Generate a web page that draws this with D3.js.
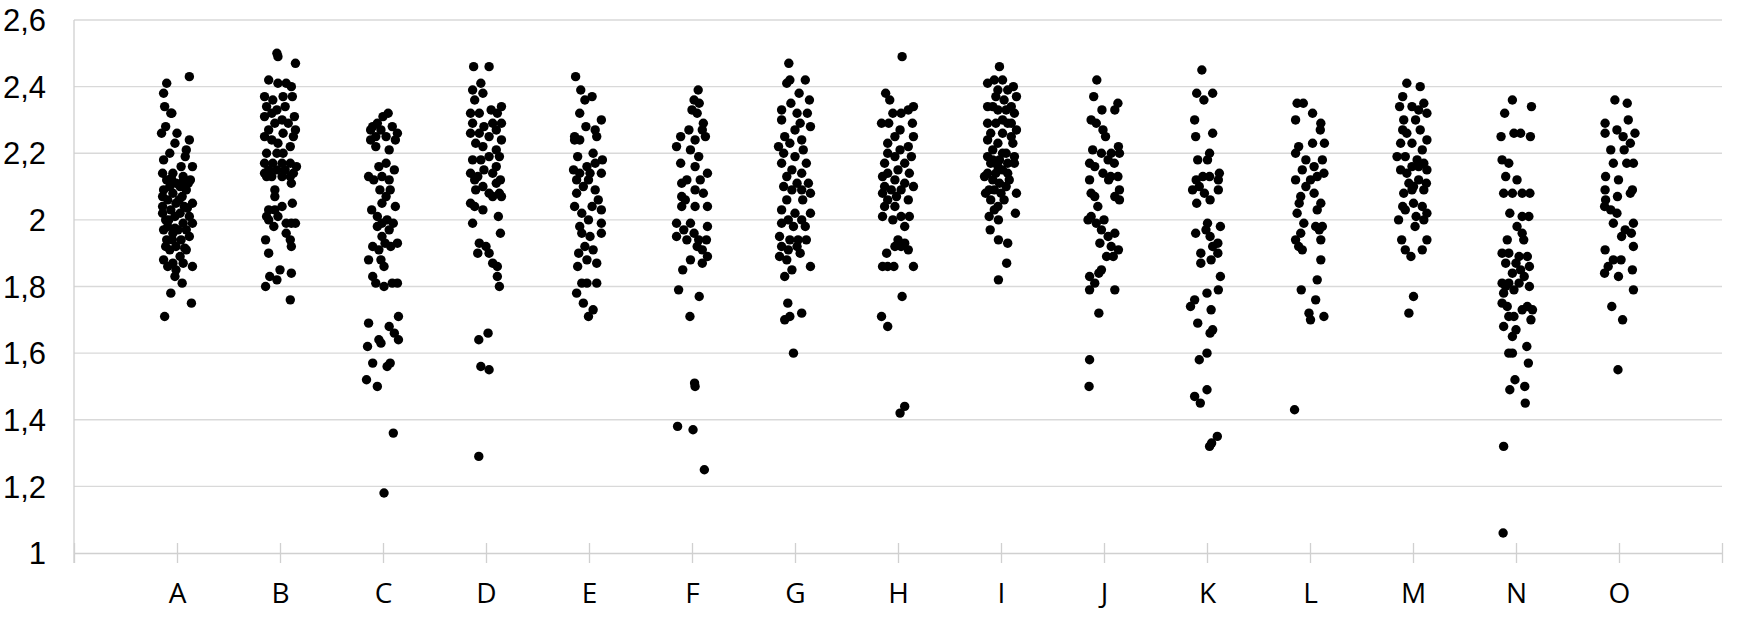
<!DOCTYPE html>
<html>
<head>
<meta charset="utf-8">
<script src="https://cdn.jsdelivr.net/npm/d3@7"></script>
<style>
  html, body { margin: 0; padding: 0; background: #fff; }
  svg text { fill: #000; }
</style>
</head>
<body>
<svg id="chart"></svg>
<script>
// categories sit on x = 1..15, axis runs 0..16
const categories = ['A','B','C','D','E','F','G','H','I','J','K','L','M','N','O']
const yTicks = [1, 1.2, 1.4, 1.6, 1.8, 2, 2.2, 2.4, 2.6]

// each point: [jitter offset from category x, value]
const pointsA = [[.12,2.43],[-.10,2.41],[-.13,2.38],[-.12,2.34],[-.05,2.32],[-.06,2.32],[-.11,2.28],[-.15,2.26],[0,2.26],[.12,2.24],
  [-.02,2.23],[.09,2.21],[-.07,2.20],[.08,2.19],[-.13,2.18],[.15,2.16],[.04,2.16],[-.14,2.14],[-.04,2.14],[.06,2.13],
  [.13,2.12],[-.10,2.12],[-.01,2.11],[-.07,2.10],[.03,2.10],[-.13,2.09],[.09,2.09],[-.04,2.08],[-.14,2.07],[.05,2.07],
  [-.09,2.06],[.15,2.05],[-.01,2.05],[-.14,2.04],[.07,2.04],[-.06,2.03],[.03,2.02],[-.14,2.02],[-.11,2.00],[-.02,2.01],
  [.12,2.01],[.06,1.99],[.15,1.99],[-.09,1.98],[.01,1.97],[-.13,1.97],[.09,1.97],[-.04,1.96],[.12,1.95],[.04,1.94],
  [-.11,1.92],[-.01,1.92],[.09,1.91],[-.07,1.91],[-.13,1.88],[.03,1.89],[-.04,1.87],[.15,1.86],[-.09,1.86],[.06,1.87],
  [-.01,1.85],[-.02,1.83],[.05,1.81],[-.06,1.78],[.14,1.75],[-.12,1.71],[-.055,2.125],[.02,2.06],[-.08,2.00],[.10,2.035],
  [-.045,1.94],[.075,1.915],[-.10,1.94],[.04,2.11],[.11,2.11],[-.02,1.975]]
const pointsB = [[-.03,2.50],[-.02,2.49],[.15,2.47],[-.11,2.42],[-.02,2.41],[.06,2.41],[.11,2.40],[-.15,2.37],[-.07,2.36],[.03,2.37],
  [.12,2.37],[-.13,2.34],[-.03,2.33],[.05,2.34],[-.08,2.32],[.14,2.31],[-.15,2.31],[.02,2.30],[.08,2.29],[.15,2.27],
  [-.05,2.29],[-.11,2.27],[.03,2.26],[.13,2.25],[-.08,2.24],[-.15,2.25],[-.02,2.23],[.10,2.22],[-.13,2.20],[.03,2.20],
  [-.03,2.20],[-.15,2.17],[-.07,2.17],[.02,2.17],[.10,2.17],[.16,2.16],[-.11,2.15],[-.03,2.15],[-.15,2.14],[.05,2.15],
  [.13,2.14],[-.08,2.13],[.02,2.13],[.10,2.13],[-.13,2.13],[.11,2.11],[-.05,2.09],[-.05,2.07],[.12,2.05],[-.11,2.03],
  [-.05,2.03],[.02,2.04],[-.13,2.01],[-.02,2.01],[.06,1.99],[.15,1.99],[.11,1.99],[-.06,1.98],[-.11,2.00],[.06,1.96],
  [.10,1.94],[-.14,1.94],[.11,1.92],[-.11,1.90],[0,1.85],[-.10,1.83],[.11,1.84],[-.14,1.80],[-.03,1.82],[.10,1.76]]
const pointsC = [[.05,2.32],[0,2.31],[-.055,2.29],[-.10,2.28],[-.12,2.27],[.09,2.28],[.14,2.26],[-.02,2.27],[-.07,2.25],[.03,2.25],
  [.12,2.24],[-.12,2.24],[.06,2.21],[-.07,2.22],[.03,2.17],[.11,2.15],[-.04,2.16],[-.14,2.13],[-.01,2.13],[-.09,2.12],
  [.06,2.12],[-.03,2.09],[.07,2.09],[.03,2.07],[-.11,2.03],[-.01,2.05],[.12,2.04],[-.055,2.01],[.04,2.00],[-.01,1.99],
  [.10,1.99],[-.055,1.98],[.06,1.97],[-.01,1.95],[.14,1.93],[.02,1.93],[-.10,1.92],[-.04,1.91],[.075,1.92],[-.14,1.88],
  [-.02,1.88],[.01,1.86],[-.10,1.83],[-.07,1.81],[.01,1.80],[.09,1.81],[.14,1.81],[-.14,1.69],[.15,1.71],[.06,1.68],
  [.11,1.66],[-.04,1.64],[.15,1.64],[-.02,1.63],[-.15,1.62],[-.10,1.57],[.04,1.56],[.07,1.57],[-.16,1.52],[-.055,1.50],
  [.10,1.36],[.01,1.18]]
const pointsD = [[-.12,2.46],[.03,2.46],[-.05,2.41],[-.13,2.39],[-.03,2.38],[.15,2.34],[-.11,2.36],[.05,2.33],[-.15,2.32],[.11,2.32],
  [-.065,2.32],[-.13,2.29],[.065,2.29],[.15,2.29],[-.02,2.28],[-.15,2.26],[-.065,2.26],[.10,2.27],[.03,2.25],[.15,2.24],
  [-.10,2.23],[-.03,2.22],[.10,2.21],[-.13,2.18],[.03,2.19],[.13,2.19],[-.05,2.18],[.10,2.16],[-.02,2.15],[-.15,2.14],
  [-.08,2.13],[.065,2.14],[.14,2.12],[-.11,2.12],[-.03,2.10],[.10,2.11],[.03,2.08],[.13,2.08],[-.10,2.09],[.065,2.07],
  [.15,2.07],[-.15,2.05],[-.11,2.04],[-.03,2.03],[-.13,1.99],[.12,2.01],[.14,1.96],[-.065,1.93],[0,1.92],[.03,1.90],
  [.065,1.87],[.11,1.86],[-.08,1.90],[.11,1.83],[.13,1.80],[.02,1.66],[-.07,1.64],[-.05,1.56],[.03,1.55],[-.07,1.29]]
const pointsE = [[-.13,2.43],[-.08,2.39],[-.04,2.36],[.03,2.37],[-.09,2.32],[.12,2.30],[-.03,2.28],[.06,2.27],[-.14,2.25],[-.09,2.24],
  [.075,2.25],[.04,2.20],[.13,2.18],[-.11,2.19],[-.15,2.15],[-.02,2.16],[.06,2.17],[.12,2.14],[-.09,2.14],[-.12,2.12],
  [-.005,2.12],[.06,2.09],[-.055,2.10],[-.12,2.08],[-.14,2.04],[.03,2.04],[.12,2.03],[-.07,2.02],[-.005,2.00],[-.09,1.98],
  [.12,1.99],[.12,1.96],[.01,1.95],[-.04,1.92],[.04,1.91],[-.10,1.90],[.075,1.87],[-.02,1.88],[-.11,1.86],[-.07,1.81],
  [.075,1.81],[-.12,1.78],[-.02,1.81],[-.055,1.75],[.04,1.73],[-.005,1.71],[-.14,2.24],[.01,2.14],[.09,2.06],[-.07,1.96]]
const pointsF = [[.06,2.39],[.02,2.36],[.07,2.35],[0,2.33],[.05,2.32],[.11,2.29],[.10,2.27],[-.03,2.27],[-.11,2.25],[-.15,2.22],
  [.13,2.25],[.03,2.24],[-.015,2.21],[.065,2.19],[-.11,2.17],[.15,2.14],[.03,2.16],[-.05,2.12],[-.10,2.11],[.08,2.12],
  [.03,2.09],[.11,2.08],[-.10,2.07],[-.065,2.06],[.15,2.04],[.03,2.04],[-.10,2.04],[-.15,1.99],[-.015,1.99],[.15,1.98],
  [-.08,1.97],[.02,1.96],[-.15,1.95],[.065,1.94],[.14,1.94],[-.05,1.94],[.05,1.92],[.10,1.91],[.15,1.89],[-.015,1.88],
  [.10,1.87],[-.09,1.85],[-.13,1.79],[.07,1.77],[-.02,1.71],[.03,1.50],[.025,1.51],[-.14,1.38],[.01,1.37],[.12,1.25]]
const pointsG = [[-.06,2.47],[-.08,2.41],[-.05,2.42],[.10,2.42],[.04,2.38],[.14,2.36],[-.04,2.35],[-.13,2.33],[.02,2.32],[.12,2.32],
  [-.13,2.30],[.15,2.28],[.05,2.29],[0,2.27],[-.10,2.25],[-.16,2.22],[.065,2.24],[-.05,2.23],[.08,2.21],[-.11,2.20],
  [0,2.19],[-.13,2.17],[.11,2.17],[-.03,2.15],[.065,2.14],[-.08,2.13],[.13,2.11],[.02,2.11],[-.11,2.10],[-.03,2.09],
  [.15,2.08],[.065,2.09],[-.08,2.06],[.075,2.06],[-.13,2.03],[0,2.02],[.15,2.02],[-.065,2.00],[.065,2.00],[-.13,1.99],
  [-.015,1.98],[.10,1.98],[-.15,1.95],[-.05,1.94],[.03,1.94],[.11,1.94],[.02,1.92],[-.13,1.92],[-.065,1.91],[.05,1.90],
  [-.15,1.89],[-.08,1.88],[.15,1.86],[-.03,1.85],[-.10,1.83],[-.07,1.75],[-.10,1.70],[-.05,1.71],[.065,1.72],[-.015,1.60]]
const pointsH = [[.04,2.49],[-.12,2.38],[-.08,2.36],[.15,2.34],[.10,2.33],[-.05,2.32],[.03,2.32],[-.16,2.29],[-.09,2.29],[.14,2.29],
  [.02,2.27],[-.03,2.25],[.15,2.25],[-.10,2.23],[.10,2.22],[.02,2.21],[-.10,2.20],[.13,2.19],[-.03,2.19],[-.13,2.17],
  [.065,2.17],[0,2.15],[-.10,2.14],[.11,2.14],[-.15,2.13],[-.03,2.12],[.065,2.11],[.15,2.10],[-.13,2.10],[-.065,2.09],
  [.03,2.09],[-.15,2.08],[-.015,2.07],[-.10,2.06],[.10,2.06],[-.13,2.04],[-.03,2.04],[-.15,2.01],[-.05,2.00],[.03,2.01],
  [.11,2.01],[.065,1.98],[0,1.94],[.065,1.93],[-.03,1.92],[.03,1.92],[.10,1.91],[-.11,1.90],[-.15,1.86],[-.10,1.86],
  [-.04,1.86],[.15,1.86],[.04,1.77],[-.16,1.71],[-.10,1.68],[.065,1.44],[.02,1.42]]
const pointsI = [[-.015,2.46],[-.13,2.41],[-.065,2.42],[.015,2.42],[.12,2.40],[-.03,2.39],[.065,2.39],[.15,2.37],[-.05,2.37],[.03,2.36],
  [-.13,2.34],[-.03,2.33],[.05,2.33],[.13,2.32],[-.13,2.29],[-.05,2.29],[.065,2.29],[.15,2.27],[-.10,2.26],[.015,2.26],
  [.10,2.25],[-.13,2.24],[-.03,2.23],[.115,2.23],[-.08,2.21],[.05,2.20],[.13,2.19],[-.13,2.19],[-.015,2.18],[.065,2.17],
  [-.10,2.17],[.13,2.17],[.015,2.15],[-.13,2.14],[-.05,2.14],[.065,2.14],[-.16,2.13],[-.08,2.12],[.08,2.12],[-.015,2.11],
  [-.115,2.09],[.05,2.10],[-.065,2.09],[0,2.08],[-.15,2.08],[.15,2.08],[-.10,2.06],[.03,2.06],[-.03,2.04],[-.065,2.03],
  [.14,2.02],[-.115,2.01],[-.025,2.00],[-.105,1.97],[-.025,1.94],[.065,1.93],[.055,1.87],[-.025,1.82],[-.08,2.34],[.10,2.34],
  [.015,2.30],[-.08,2.18],[.10,2.29],[.015,2.20],[-.03,2.16]]
const pointsJ = [[-.07,2.42],[-.10,2.37],[.135,2.35],[-.02,2.33],[.105,2.33],[-.125,2.30],[-.075,2.29],[-.01,2.27],[.015,2.25],[.14,2.22],
  [-.11,2.21],[-.025,2.20],[.07,2.20],[.15,2.20],[-.14,2.17],[.04,2.18],[.10,2.17],[-.09,2.16],[-.01,2.14],[.135,2.13],
  [.065,2.13],[-.14,2.12],[.045,2.12],[.15,2.09],[-.125,2.08],[.105,2.07],[.15,2.06],[-.09,2.07],[-.06,2.04],[-.155,2.00],
  [-.125,2.01],[0,2.00],[-.075,1.99],[-.025,1.97],[.105,1.96],[.04,1.95],[-.04,1.93],[.07,1.92],[.14,1.91],[.09,1.89],
  [.025,1.89],[-.025,1.85],[-.05,1.84],[-.14,1.83],[-.09,1.81],[-.14,1.79],[.105,1.79],[-.05,1.72],[-.14,1.58],[-.145,1.50]]
const pointsK = [[-.05,2.45],[-.10,2.38],[.055,2.38],[-.03,2.36],[-.12,2.30],[.055,2.26],[-.11,2.25],[.025,2.20],[.005,2.18],[-.09,2.18],
  [.12,2.14],[-.04,2.13],[.025,2.13],[-.105,2.12],[.11,2.12],[-.14,2.09],[-.075,2.10],[-.025,2.08],[.11,2.09],[.03,2.06],
  [-.10,2.05],[.005,1.99],[.13,1.98],[-.11,1.96],[.03,1.95],[-.01,1.97],[.105,1.93],[.055,1.92],[-.06,1.90],[.105,1.90],
  [.04,1.88],[-.06,1.87],[.13,1.83],[.11,1.79],[0,1.78],[-.12,1.76],[-.16,1.74],[.04,1.73],[-.09,1.69],[.055,1.67],
  [.03,1.66],[0,1.60],[-.075,1.58],[0,1.49],[-.12,1.47],[-.065,1.45],[.10,1.35],[.025,1.32],[.045,1.33]]
const pointsL = [[-.125,2.35],[-.065,2.35],[.025,2.32],[.105,2.29],[-.14,2.30],[.10,2.27],[.14,2.23],[-.11,2.22],[.025,2.23],[-.14,2.20],
  [-.04,2.18],[.12,2.18],[.04,2.16],[-.075,2.15],[.135,2.14],[-.14,2.12],[.005,2.12],[.07,2.13],[-.04,2.10],[.04,2.08],
  [-.09,2.07],[.105,2.05],[-.105,2.05],[.07,2.03],[-.125,2.02],[-.06,1.99],[.055,1.98],[.12,1.98],[.09,1.97],[-.09,1.96],
  [-.14,1.94],[.105,1.94],[-.075,1.91],[-.11,1.92],[.105,1.88],[.07,1.82],[-.085,1.79],[.055,1.76],[-.01,1.72],[.005,1.70],
  [.135,1.71],[-.15,1.43]]
const pointsM = [[-.06,2.41],[.07,2.40],[-.10,2.37],[.105,2.35],[-.13,2.34],[-.01,2.34],[.055,2.33],[.135,2.32],[-.09,2.30],[.025,2.30],
  [-.10,2.27],[.07,2.27],[.135,2.24],[-.12,2.23],[-.01,2.23],[.09,2.21],[-.155,2.19],[-.075,2.19],[.04,2.18],[.105,2.17],
  [-.12,2.15],[-.01,2.16],[.135,2.15],[-.06,2.14],[.055,2.12],[.13,2.11],[.005,2.10],[-.09,2.08],[.105,2.09],[-.01,2.09],
  [.005,2.05],[.09,2.04],[-.10,2.04],[.135,2.02],[-.075,2.03],[.03,2.01],[-.14,2.00],[.105,2.00],[.02,1.98],[-.11,1.94],
  [.135,1.94],[-.075,1.91],[.09,1.91],[-.02,1.89],[.005,1.77],[-.04,1.72],[-.06,2.26],[.055,2.16],[-.04,2.11]]
const pointsN = [[-.035,2.36],[.15,2.34],[-.11,2.32],[-.145,2.25],[-.02,2.26],[.045,2.26],[.14,2.25],[-.135,2.18],[-.07,2.17],[-.10,2.13],
  [.01,2.12],[-.12,2.08],[-.035,2.08],[.06,2.08],[.135,2.08],[-.06,2.02],[.06,2.01],[.125,2.01],[.01,1.98],[.06,1.96],
  [.075,1.94],[-.085,1.94],[-.135,1.90],[-.07,1.90],[.03,1.89],[.11,1.89],[-.10,1.87],[0,1.87],[.13,1.86],[-.035,1.84],
  [.08,1.83],[-.135,1.81],[-.07,1.81],[.03,1.81],[.13,1.80],[-.10,1.80],[-.02,1.79],[-.12,1.78],[-.135,1.75],[-.085,1.74],
  [.11,1.74],[.06,1.73],[.16,1.73],[-.02,1.71],[.145,1.70],[-.07,1.71],[-.12,1.68],[0,1.67],[-.035,1.65],[.105,1.62],
  [-.07,1.60],[-.035,1.60],[.12,1.57],[-.01,1.52],[-.06,1.49],[.085,1.50],[.09,1.45],[-.12,1.32],[-.125,1.06],[.045,1.85]]
const pointsO = [[-.04,2.36],[.08,2.35],[.09,2.30],[-.135,2.29],[-.02,2.27],[.155,2.26],[-.135,2.26],[.04,2.25],[.11,2.23],[-.08,2.21],
  [.05,2.21],[-.055,2.17],[.075,2.17],[.14,2.17],[-.13,2.13],[-.005,2.12],[-.135,2.09],[.13,2.09],[.11,2.08],[-.015,2.07],
  [-.13,2.06],[-.14,2.04],[-.08,2.03],[-.02,2.02],[-.055,1.99],[.14,1.99],[.06,1.97],[.12,1.96],[.025,1.95],[.14,1.92],
  [-.135,1.91],[.02,1.88],[-.055,1.88],[-.105,1.86],[-.14,1.84],[-.005,1.83],[.13,1.85],[.14,1.79],[-.07,1.74],[.035,1.70],
  [-.01,1.55]]

const series = [pointsA, pointsB, pointsC, pointsD, pointsE, pointsF, pointsG, pointsH,
  pointsI, pointsJ, pointsK, pointsL, pointsM, pointsN, pointsO]

const totalWidth = 1761
const totalHeight = 620
const margin = {top: 20, right: 39, bottom: 67, left: 74}
const width = totalWidth - margin.left - margin.right
const height = totalHeight - margin.top - margin.bottom

const svg = d3.select('#chart')
    .attr('width', totalWidth)
    .attr('height', totalHeight)
    .append('g')
        .attr('transform', 'translate(' + margin.left + ',' + margin.top + ')')

const x = d3.scaleLinear()
    .domain([0, categories.length + 1])
    .range([0, width])

const y = d3.scaleLinear()
    .domain([1, 2.6])
    .range([height, 0])

const locale = d3.formatLocale({decimal: ',', thousands: '.', grouping: [3], currency: ['', '']})
const fmt = locale.format('~g')

// horizontal gridlines
svg.append('g')
    .selectAll('line')
    .data(yTicks.filter(d => d !== 1))
    .join('line')
        .attr('x1', 0)
        .attr('x2', width)
        .attr('y1', d => y(d))
        .attr('y2', d => y(d))
        .attr('stroke', '#d9d9d9')
        .attr('stroke-width', 1.3)

// left axis line
svg.append('line')
    .attr('x1', 0).attr('x2', 0)
    .attr('y1', y(2.6)).attr('y2', height + 10)
    .attr('stroke', '#d0d0d0')
    .attr('stroke-width', 1.3)

// y labels (Arial-like in the original)
svg.append('g')
    .selectAll('text')
    .data(yTicks)
    .join('text')
        .attr('x', -28)
        .attr('y', d => y(d))
        .attr('dy', '0.36em')
        .attr('text-anchor', 'end')
        .style('font-size', '31px')
        .style('font-family', '"Liberation Sans", Arial, sans-serif')
        .text(d => fmt(d))

// bottom axis with crossing ticks
const xAxis = svg.append('g')
    .attr('transform', 'translate(0,' + height + ')')
    .call(d3.axisBottom(x)
        .tickValues(d3.range(0, categories.length + 2))
        .tickSize(10)
        .tickSizeOuter(0)
        .tickFormat(d => categories[d - 1] || ''))
xAxis.select('.domain').attr('stroke', '#d0d0d0').attr('stroke-width', 1.3)
xAxis.selectAll('.tick line')
    .attr('y1', -10)
    .attr('stroke', '#d0d0d0')
    .attr('stroke-width', 1.3)
xAxis.selectAll('.tick text')
    .attr('y', 40)
    .attr('dy', '0.36em')
    .style('font-size', '28px')
    .style('font-family', '"Open Sans", "Noto Sans", sans-serif')
    .attr('fill', '#000')

// the dots
series.forEach((pts, i) => {
    svg.append('g')
        .selectAll('circle')
        .data(pts)
        .join('circle')
            .attr('cx', d => x(i + 1 + d[0]))
            .attr('cy', d => y(d[1]))
            .attr('r', 4.7)
            .attr('fill', '#000')
})
</script>
</body>
</html>
